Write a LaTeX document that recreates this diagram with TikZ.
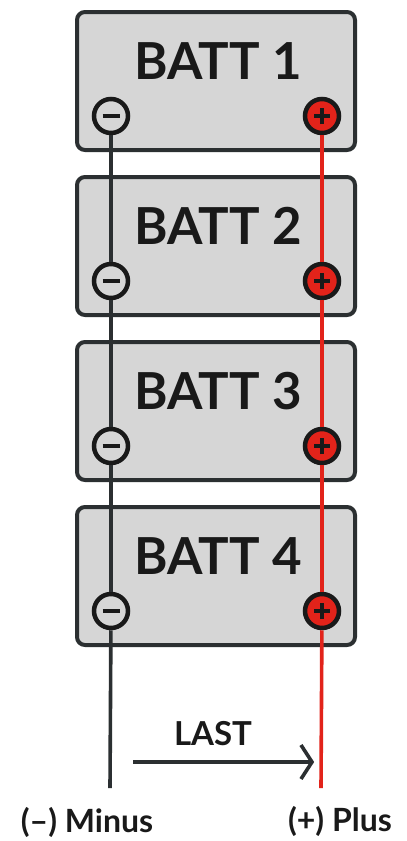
\documentclass[tikz,border=0pt]{standalone}
\usepackage{fontspec}
\setmainfont{Lato}
\definecolor{boxgray}{HTML}{D6D6D6}
\definecolor{darkline}{HTML}{2B2F31}
\definecolor{termred}{HTML}{E2231A}
\begin{document}
\begin{tikzpicture}[x=1pt,y=-1pt,
  battbox/.style={draw=darkline,line width=4pt,fill=boxgray,rounded corners=8pt,minimum width=278pt,minimum height=138pt,inner sep=0pt},
  batttext/.style={font=\fontsize{51}{51}\selectfont\bfseries,text=black!90,inner sep=0pt},
  minusterm/.style={circle,draw=black!90,line width=4.5pt,fill=boxgray,minimum size=34pt,inner sep=0pt},
  plusterm/.style={circle,draw=black!90,line width=4.5pt,fill=termred,minimum size=34pt,inner sep=0pt},
  negwire/.style={draw=darkline,line width=3.6pt},
  poswire/.style={draw=termred,line width=3.6pt},
  sign/.style={line width=4.5pt,draw=black!90},
  lbl/.style={font=\fontsize{32}{32}\selectfont\bfseries,text=black!90,inner sep=0pt}
]
\useasboundingbox (0,0) rectangle (407,841);
\foreach \i/\t in {1/10,2/175,3/340,4/505}{
  \node[battbox] (b\i) at (216,\t+71) {};
  \node[batttext] (bt\i) at (218,\t+51) {BATT \i};
  \node[minusterm] (m\i) at (111,\t+106) {};
  \node[plusterm] (p\i) at (322,\t+106) {};
  \draw[sign] ([xshift=-8.5pt]m\i.center) -- ([xshift=8.5pt]m\i.center);
  \draw[sign] ([xshift=-8pt]p\i.center) -- ([xshift=8pt]p\i.center);
  \draw[sign] ([yshift=-8pt]p\i.center) -- ([yshift=8pt]p\i.center);
}
\coordinate (mb) at (110,788);
\coordinate (pb) at (321,788);
\draw[negwire] (m1) -- (m2);
\draw[negwire] (m2) -- (m3);
\draw[negwire] (m3) -- (m4);
\draw[negwire] (m4) -- (mb);
\draw[poswire] (p1) -- (p2);
\draw[poswire] (p2) -- (p3);
\draw[poswire] (p3) -- (p4);
\draw[poswire] (p4) -- (pb);
\coordinate (a1) at (133,762);
\coordinate (a2) at (312,762);
\draw[darkline,line width=3.6pt] (a1) -- ([xshift=-2pt]a2);
\draw[darkline,line width=3.6pt,line join=miter] ([shift={(-11,-17)}]a2) -- (a2) -- ([shift={(-11,17)}]a2);
\node[font=\fontsize{33}{33}\selectfont\bfseries,text=black!90,inner sep=0pt] (last) at (213,734) {LAST};
\node[lbl] (minus) at (87,822) {(–) Minus};
\node[lbl] (plus) at (340,821) {(+) Plus};
\end{tikzpicture}
\end{document}
